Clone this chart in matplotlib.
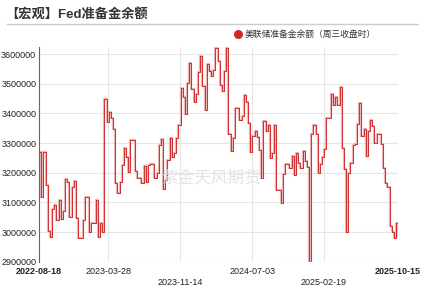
import matplotlib
matplotlib.use('Agg')
import matplotlib.pyplot as plt
import pandas as pd

plt.rcParams['font.family'] = ['Liberation Sans', 'Noto Sans CJK SC', 'DejaVu Sans']

# weekly Fed reserve balances
start_date = '2022-08-18'
end_date = '2025-10-15'
values = [3270000, 3117000, 3270000, 3158000, 3004000, 2982000, 3076000, 3091000, 3040000, 3108000,
          3045000, 3070000, 3178000, 3170000, 3052000, 3153000, 3172000, 3049000, 2979000, 2979000,
          3040000, 3119000, 3119000, 3000000, 3031000, 3030000, 3108000, 2984000, 3030000, 3001000,
          3447000, 3372000, 3405000, 3385000, 3349000, 3166000, 3132000, 3169000, 3226000, 3285000,
          3252000, 3203000, 3310000, 3310000, 3205000, 3181000, 3183000, 3164000, 3222000, 3170000,
          3225000, 3228000, 3228000, 3181000, 3200000, 3293000, 3313000, 3145000, 3175000, 3243000,
          3318000, 3252000, 3267000, 3316000, 3361000, 3486000, 3456000, 3398000, 3501000, 3571000,
          3481000, 3437000, 3465000, 3540000, 3594000, 3493000, 3413000, 3565000, 3544000, 3526000,
          3545000, 3622000, 3577000, 3495000, 3475000, 3544000, 3619000, 3329000, 3273000,
          3318000, 3417000, 3417000, 3377000, 3391000, 3462000, 3439000, 3368000, 3271000, 3323000,
          3341000, 3320000, 3276000, 3181000, 3375000, 3340000, 3361000, 3248000, 3265000, 3361000,
          3141000, 3141000, 3099000, 3197000, 3229000, 3229000, 3217000, 3257000, 3192000, 3267000,
          3233000, 3217000, 3274000, 3240000, 3218000, 2892000, 3330000, 3361000, 3330000, 3200000,
          3231000, 3254000, 3279000, 3383000, 3383000, 3465000, 3430000, 3454000, 3430000, 3488000,
          3282000, 3211000, 3000000, 3200000, 3233000, 3293000, 3296000, 3364000, 3436000, 3323000,
          3349000, 3257000, 3341000, 3377000, 3357000, 3301000, 3330000, 3330000, 3298000, 3217000,
          3166000, 3152000, 3020000, 2999000, 2979000, 3031000, 2986000]
dates = pd.date_range(start_date, periods=len(values), freq='7D')

tick_dates = ['2022-08-18', '2023-03-28', '2023-11-14', '2024-07-03', '2025-02-19', '2025-10-15']
y_ticks = [2900000, 3000000, 3100000, 3200000, 3300000, 3400000, 3500000, 3600000]
series_name = '美联储准备金余额（周三收盘时）'

fig = plt.figure(figsize=(4.23, 2.89), dpi=100)
ax = fig.add_axes([0.0922, 0.0945, 0.8488, 0.744])

ax.plot(dates, values, drawstyle='steps-post', color='#efb4b4', linewidth=1.6)
ax.plot(dates, values, drawstyle='steps-post', color='#cf2f2f', linewidth=0.7)

ax.set_xlim(pd.Timestamp(start_date), pd.Timestamp(end_date))
ax.set_ylim(2900000, 3625000)

ax.set_yticks(y_ticks)
ax.set_yticklabels([str(v) for v in y_ticks], fontsize=6.5, color='#222222')
ax.tick_params(axis='y', length=0, pad=2)

# x ticks: gridlines only in the middle, labels staggered
td = [pd.Timestamp(d) for d in tick_dates]
ax.set_xticks(td)
ax.set_xticklabels([])
ax.tick_params(axis='x', length=0)
for i, d in enumerate(td):
    if 0 < i < len(td) - 1:
        ax.axvline(d, color='#e6e6e6', linewidth=0.8, zorder=0)
    yoff = -0.045 if i in (0, 1, 3, 5) else -0.095
    bold = 'bold' if i in (0, len(td) - 1) else 'normal'
    ax.text(d, yoff, tick_dates[i], transform=ax.get_xaxis_transform(), ha='center', va='center',
            fontsize=6.5, fontweight=bold, color='#222222')

ax.grid(axis='y', color='#e6e6e6', linewidth=0.8, zorder=0)
ax.set_axisbelow(True)
for s in ['top', 'right', 'bottom']:
    ax.spines[s].set_visible(False)
ax.spines['left'].set_color('#666666')
ax.spines['left'].set_linewidth(0.8)

# title, separator, legend, watermark
fig.text(0.012, 0.952, '【宏观】Fed准备金余额', fontsize=9.5, fontweight='bold', color='#333333',
         ha='left', va='center')
fig.add_artist(plt.Line2D([0.017, 0.988], [0.918, 0.918], color='#cccccc', linewidth=1.0))
ax.plot([0.563], [0.884], 'o', markersize=5.5, color='#cc2b2b', transform=fig.transFigure, clip_on=False)
fig.text(0.578, 0.882, series_name, fontsize=6.3, color='#333333', ha='left', va='center')
fig.text(0.50, 0.385, '紫金天风期货', fontsize=12, color='#dddddd', alpha=0.8, ha='center', va='center')

fig.savefig('out.png', dpi=100)
